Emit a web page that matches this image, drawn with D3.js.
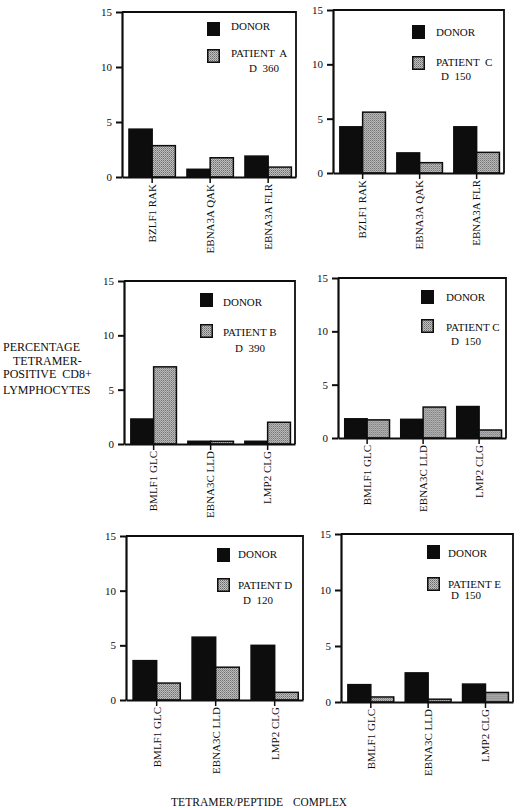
<!DOCTYPE html>
<html><head><meta charset="utf-8">
<script src="https://cdn.jsdelivr.net/npm/d3@7"></script>
<style>body{margin:0;background:#fff}svg{display:block}</style>
</head><body><svg id="c" width="520" height="808"></svg>
<script>
// ---- data ----
const categoriesTop = ["BZLF1 RAK", "EBNA3A QAK", "EBNA3A FLR"];
const categoriesLow = ["BMLF1 GLC", "EBNA3C LLD", "LMP2 CLG"];
const yTicks = [0, 5, 10, 15];
const yMax = 15;
const donorLabel = "DONOR";
const patientLabels = ["PATIENT  A", "PATIENT  C", "PATIENT B", "PATIENT C", "PATIENT D", "PATIENT E"];
const dayLabels = ["D  360", "D  150", "D  390", "D  150", "D  120", "D  150"];
const donorA = [4.35, 0.7, 1.9];   const patientA = [2.85, 1.75, 0.9];
const donorC1 = [4.25, 1.85, 4.25]; const patientC1 = [5.6, 0.95, 1.9];
const donorB = [2.3, 0.25, 0.25];  const patientB = [7.1, 0.25, 2.0];
const donorC2 = [1.8, 1.75, 2.95]; const patientC2 = [1.7, 2.9, 0.75];
const donorD = [3.6, 5.75, 5.0];   const patientD = [1.55, 3.0, 0.7];
const donorE = [1.55, 2.6, 1.6];   const patientE = [0.45, 0.25, 0.85];
const yTitleLines = ["PERCENTAGE", "TETRAMER-", "POSITIVE  CD8+", "LYMPHOCYTES"];
const xTitleParts = ["TETRAMER/PEPTIDE", "COMPLEX"];

// ---- layout (positions only) ----
const layout = [
  {x0:122, x1:296, top:12, base:177, sx:207, sy1:22, sy2:49, tx:231, ty1:26, ty2:53, dx:249, dy:68},
  {x0:333, x1:504, top:10, base:173, sx:412, sy1:25, sy2:56, tx:436, ty1:32, ty2:62, dx:441, dy:76},
  {x0:124, x1:295, top:281, base:444, sx:200, sy1:293, sy2:324, tx:223, ty1:302, ty2:332, dx:235, dy:348},
  {x0:338, x1:506, top:278, base:438, sx:421, sy1:290, sy2:319, tx:446, ty1:297, ty2:327, dx:451, dy:341},
  {x0:126, x1:303, top:536, base:700, sx:217, sy1:548, sy2:578, tx:238, ty1:554, ty2:585, dx:243, dy:600},
  {x0:341, x1:513, top:534, base:702, sx:427, sy1:545, sy2:577, tx:448, ty1:553, ty2:584, dx:451, dy:595}
];
const panels = [
  {cats: categoriesTop, donor: donorA, patient: patientA},
  {cats: categoriesTop, donor: donorC1, patient: patientC1},
  {cats: categoriesLow, donor: donorB, patient: patientB},
  {cats: categoriesLow, donor: donorC2, patient: patientC2},
  {cats: categoriesLow, donor: donorD, patient: patientD},
  {cats: categoriesLow, donor: donorE, patient: patientE}
];

const FONT = "'Liberation Serif', 'Times New Roman', serif";
const INK = "#0d0d0d";
const svg = d3.select("#c");
svg.append("rect").attr("width", 520).attr("height", 808).attr("fill", "#fff");

// stipple pattern for patient bars
const defs = svg.append("defs");
const pat = defs.append("pattern").attr("id", "stip").attr("patternUnits", "userSpaceOnUse")
  .attr("width", 2).attr("height", 2);
pat.append("rect").attr("width", 2).attr("height", 2).attr("fill", "#c2c2c2");
pat.append("rect").attr("x", 0).attr("y", 0).attr("width", 1).attr("height", 1).attr("fill", "#6a6a6a");
pat.append("rect").attr("x", 1).attr("y", 1).attr("width", 1).attr("height", 1).attr("fill", "#8c8c8c");

panels.forEach((p, i) => {
  const L = layout[i];
  const g = svg.append("g");
  const y = d3.scaleLinear().domain([0, yMax]).range([L.base, L.top]);
  const x = d3.scaleBand().domain(p.cats).range([L.x0, L.x1]).paddingInner(0.2).paddingOuter(0.1).align(0.6);
  const sub = d3.scaleBand().domain([0, 1]).range([0, x.bandwidth()]);

  // bars
  const rows = p.cats.map((c, k) => ({c, v: [p.donor[k], p.patient[k]]}));
  const grp = g.selectAll("g.grp").data(rows).join("g").attr("transform", d => `translate(${x(d.c)},0)`);
  grp.selectAll("rect").data(d => d.v.map((v, s) => ({v, s}))).join("rect")
    .attr("x", d => sub(d.s)).attr("width", sub.bandwidth())
    .attr("y", d => y(d.v)).attr("height", d => y(0) - y(d.v))
    .attr("fill", d => d.s === 0 ? INK : "url(#stip)")
    .attr("stroke", INK).attr("stroke-width", 1.5);

  // frame: top & right
  g.append("path").attr("d", `M${L.x0},${y(yMax)}H${L.x1}V${y(0)}`)
    .attr("fill", "none").attr("stroke", INK).attr("stroke-width", 1.8);

  // y axis
  const ya = g.append("g").attr("transform", `translate(${L.x0},0)`)
    .call(d3.axisLeft(y).tickValues(yTicks).tickSize(6).tickPadding(4).tickSizeOuter(0));
  ya.select(".domain").attr("stroke", INK).attr("stroke-width", 2.2);
  ya.selectAll(".tick line").attr("stroke", INK).attr("stroke-width", 2);
  ya.selectAll(".tick text").attr("font-family", FONT).attr("font-size", 11).attr("fill", INK);

  // x axis
  const xa = g.append("g").attr("transform", `translate(0,${L.base})`)
    .call(d3.axisBottom(x).tickSize(6).tickSizeOuter(0).tickPadding(0));
  xa.select(".domain").attr("stroke", INK).attr("stroke-width", 2.2);
  xa.selectAll(".tick line").attr("stroke", INK).attr("stroke-width", 1.5);
  xa.selectAll(".tick text")
    .attr("font-family", FONT).attr("font-size", 11).attr("fill", INK)
    .attr("text-anchor", "end").attr("transform", "rotate(-90)")
    .attr("x", -7).attr("y", 0).attr("dy", "0.35em");

  // legend
  g.append("rect").attr("x", L.sx).attr("y", L.sy1).attr("width", 13).attr("height", 14).attr("fill", INK);
  g.append("rect").attr("x", L.sx + 0.75).attr("y", L.sy2 + 0.75).attr("width", 11.5).attr("height", 12.5)
    .attr("fill", "url(#stip)").attr("stroke", INK).attr("stroke-width", 1.5);
  const t = (tx, ty, s) => g.append("text").attr("x", tx).attr("y", ty).attr("dy", "0.35em")
    .attr("font-family", FONT).attr("font-size", 11).attr("fill", INK)
    .style("white-space", "pre").text(s);
  t(L.tx, L.ty1, donorLabel);
  t(L.tx, L.ty2, patientLabels[i]);
  t(L.dx, L.dy, dayLabels[i]);
});

// y title
const yPos = [[3, 347], [13, 361], [3, 374], [3, 390]];
yTitleLines.forEach((s, k) => {
  svg.append("text").attr("x", yPos[k][0]).attr("y", yPos[k][1]).attr("dy", "0.35em")
    .attr("font-family", FONT).attr("font-size", 12).attr("fill", INK)
    .style("white-space", "pre").text(s);
});
// x title
svg.append("text").attr("x", 171).attr("y", 802).attr("dy", "0.35em")
  .attr("font-family", FONT).attr("font-size", 12).attr("fill", INK)
  .attr("textLength", 112).attr("lengthAdjust", "spacingAndGlyphs").text(xTitleParts[0]);
svg.append("text").attr("x", 293).attr("y", 802).attr("dy", "0.35em")
  .attr("font-family", FONT).attr("font-size", 12).attr("fill", INK)
  .attr("textLength", 54).attr("lengthAdjust", "spacingAndGlyphs").text(xTitleParts[1]);
</script>
</body></html>
